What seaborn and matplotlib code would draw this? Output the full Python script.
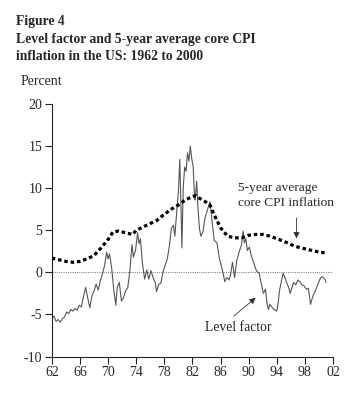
"""
Figure 4: level factor and 5-year average core CPI inflation
"""

import matplotlib
matplotlib.use("Agg")
import matplotlib.pyplot as plt  # type: ignore
import pandas as pd  # type: ignore
import seaborn as sns  # type: ignore

# level factor (years are 19xx, 100 = 2000)
level_years = [
    62.0, 62.3, 62.6, 62.9, 63.2, 63.5, 63.8, 64.1, 64.4, 64.7, 65.0, 65.3,
    65.6, 65.9, 66.2, 66.5, 66.8, 67.1, 67.4, 67.7, 68.0, 68.3, 68.6, 68.9,
    69.2, 69.5, 69.8, 70.0, 70.2, 70.5, 70.8, 71.1, 71.3, 71.6, 71.9, 72.2,
    72.5, 72.8, 73.1, 73.4, 73.6, 73.9, 74.2, 74.4, 74.6, 74.9, 75.2, 75.5,
    75.8, 76.1, 76.4, 76.7, 76.9, 77.2, 77.5, 77.8, 78.1, 78.4, 78.7, 79.0,
    79.3, 79.5, 79.8, 80.0, 80.2, 80.4, 80.5, 80.7, 80.9, 81.1, 81.3, 81.5,
    81.7, 81.9, 82.1, 82.3, 82.4, 82.6, 82.8, 83.0, 83.2, 83.5, 83.8, 84.1,
    84.5, 84.8, 85.1, 85.5, 85.8, 86.1, 86.4, 86.6, 86.9, 87.2, 87.4, 87.7,
    88.0, 88.3, 88.6, 89.0, 89.2, 89.4, 89.6, 89.8, 90.1, 90.4, 90.7, 91.0,
    91.2, 91.5, 91.8, 92.1, 92.4, 92.6, 92.8, 93.0, 93.3, 93.6, 94.0, 94.2,
    94.4, 94.7, 94.9, 95.1, 95.4, 95.7, 95.9, 96.2, 96.4, 96.7, 97.0, 97.3,
    97.6, 97.9, 98.2, 98.5, 98.8, 99.0, 99.2, 99.5, 99.9, 100.2, 100.4, 100.6,
    100.9, 101.0,
]
level_values = [
    -5.5, -5.2, -5.8, -5.6, -5.9, -5.5, -5.3, -4.7, -4.9, -4.4, -4.6, -4.3,
    -4.5, -3.9, -4.1, -2.9, -1.8, -3.0, -4.2, -2.8, -2.2, -1.4, -2.1, -1.0,
    -0.2, 0.8, 2.4, 1.6, 2.2, 0.6, -2.0, -3.9, -1.8, -1.2, -3.4, -3.0,
    -2.2, -1.8, 0.2, 3.3, 1.8, 2.6, 4.7, 3.4, 4.0, 1.0, -0.8, 0.3,
    -0.8, 0.2, -0.6, -1.2, -2.3, -1.4, -1.3, 0.0, 0.8, 1.5, 3.0, 5.2,
    5.6, 4.3, 7.6, 9.5, 13.4, 7.0, 2.9, 10.2, 12.5, 12.0, 14.2, 13.2,
    15.0, 13.5, 12.6, 9.0, 8.6, 10.8, 7.5, 5.2, 4.3, 4.8, 6.5, 7.3,
    8.4, 6.0, 3.8, 3.5, 1.8, 0.8, -0.2, -1.1, -0.6, -0.9, -0.4, 1.2,
    -0.6, 1.4, 2.3, 3.3, 4.9, 3.5, 4.0, 2.6, 3.0, 1.9, 1.2, 0.4,
    0.1, -0.1, -1.4, -2.5, -2.0, -3.6, -4.4, -3.8, -4.1, -4.4, -4.6, -3.6,
    -2.1, -0.9, -0.1, -0.5, -1.2, -1.8, -2.5, -1.7, -1.2, -1.5, -0.9, -1.1,
    -1.5, -1.6, -2.0, -1.9, -3.8, -3.2, -2.7, -2.2, -1.3, -0.7, -0.5, -0.6,
    -0.9, -1.2,
]

# 5-year average core CPI inflation
avg_years = [
    62.0, 63.0, 64.0, 65.0, 66.0, 67.0, 68.0, 69.0, 70.0, 70.7, 71.5, 72.5,
    73.5, 74.0, 75.0, 76.0, 77.0, 78.0, 79.0, 80.0, 81.0, 82.0, 82.5, 83.0,
    84.0, 84.5, 85.0, 86.0, 87.0, 88.0, 89.0, 90.0, 91.0, 92.0, 93.0, 94.0,
    95.0, 96.0, 97.0, 98.0, 99.0, 100.0, 101.0,
]
avg_values = [
    1.7, 1.5, 1.3, 1.2, 1.3, 1.6, 2.0, 2.9, 3.9, 4.8, 4.9, 4.7,
    4.5, 5.0, 5.4, 5.8, 6.2, 6.9, 7.5, 8.0, 8.6, 9.0, 9.1, 8.8,
    8.3, 8.0, 7.0, 5.3, 4.3, 4.1, 4.1, 4.4, 4.5, 4.5, 4.3, 4.0,
    3.7, 3.3, 3.0, 2.8, 2.6, 2.4, 2.3,
]

x_ticks = [62, 66, 70, 74, 78, 82, 86, 90, 94, 98, 102]
x_labels = ["62", "66", "70", "74", "78", "82", "86", "90", "94", "98", "02"]
y_ticks = [-10, -5, 0, 5, 10, 15, 20]


def main():
    sns.set_style("ticks")
    plt.rcParams["font.family"] = ["Liberation Serif", "DejaVu Serif"]

    level = pd.DataFrame({"year": level_years, "value": level_values})
    avg = pd.DataFrame({"year": avg_years, "value": avg_values})

    fig = plt.figure(figsize=(3.6, 3.98), dpi=100)
    ax = fig.add_axes([0.144, 0.104, 0.781, 0.635])

    ax.axhline(0, color="#888888", lw=0.8, ls=(0, (1, 1)), zorder=1)
    sns.lineplot(data=level, x="year", y="value", ax=ax, color="#555555",
                 lw=0.8, zorder=2)
    sns.lineplot(data=avg, x="year", y="value", ax=ax, color="black",
                 lw=2.3, ls=(0, (1.1, 0.9)), zorder=3)

    ax.set_xlim(62, 102)
    ax.set_ylim(-10, 20)
    ax.set_xticks(x_ticks)
    ax.set_xticklabels(x_labels, fontsize=10)
    ax.set_yticks(y_ticks)
    ax.set_yticklabels([str(t) for t in y_ticks], fontsize=10)
    ax.set_xlabel("")
    ax.set_ylabel("")
    ax.tick_params(length=5, width=0.8, color="#222222", pad=2)
    sns.despine(ax=ax)
    for side in ["left", "bottom"]:
        ax.spines[side].set_linewidth(0.8)
        ax.spines[side].set_color("#222222")

    ax.text(88.5, 10.05, "5-year average", ha="left", va="center", fontsize=9.6)
    ax.text(88.5, 8.25, "core CPI inflation", ha="left", va="center", fontsize=9.6)
    ax.annotate("", xy=(96.8, 3.7), xytext=(96.8, 6.8),
                arrowprops=dict(arrowstyle="-|>", color="#333333", lw=0.6,
                                mutation_scale=9))
    ax.text(88.5, -6.6, "Level factor", ha="center", va="center", fontsize=9.8)
    ax.annotate("", xy=(91.3, -2.8), xytext=(87.6, -5.4),
                arrowprops=dict(arrowstyle="-|>", color="#333333", lw=0.6,
                                mutation_scale=9))

    fig.text(0.044, 0.945, "Figure 4", fontsize=9.8, fontweight="bold", va="center")
    fig.text(0.044, 0.900, "Level factor and 5-year average core CPI",
             fontsize=9.8, fontweight="bold", va="center")
    fig.text(0.044, 0.858, "inflation in the US: 1962 to 2000",
             fontsize=9.8, fontweight="bold", va="center")
    fig.text(0.056, 0.794, "Percent", fontsize=10, va="center")

    fig.savefig("out.png", dpi=100)


if __name__ == "__main__":
    main()
